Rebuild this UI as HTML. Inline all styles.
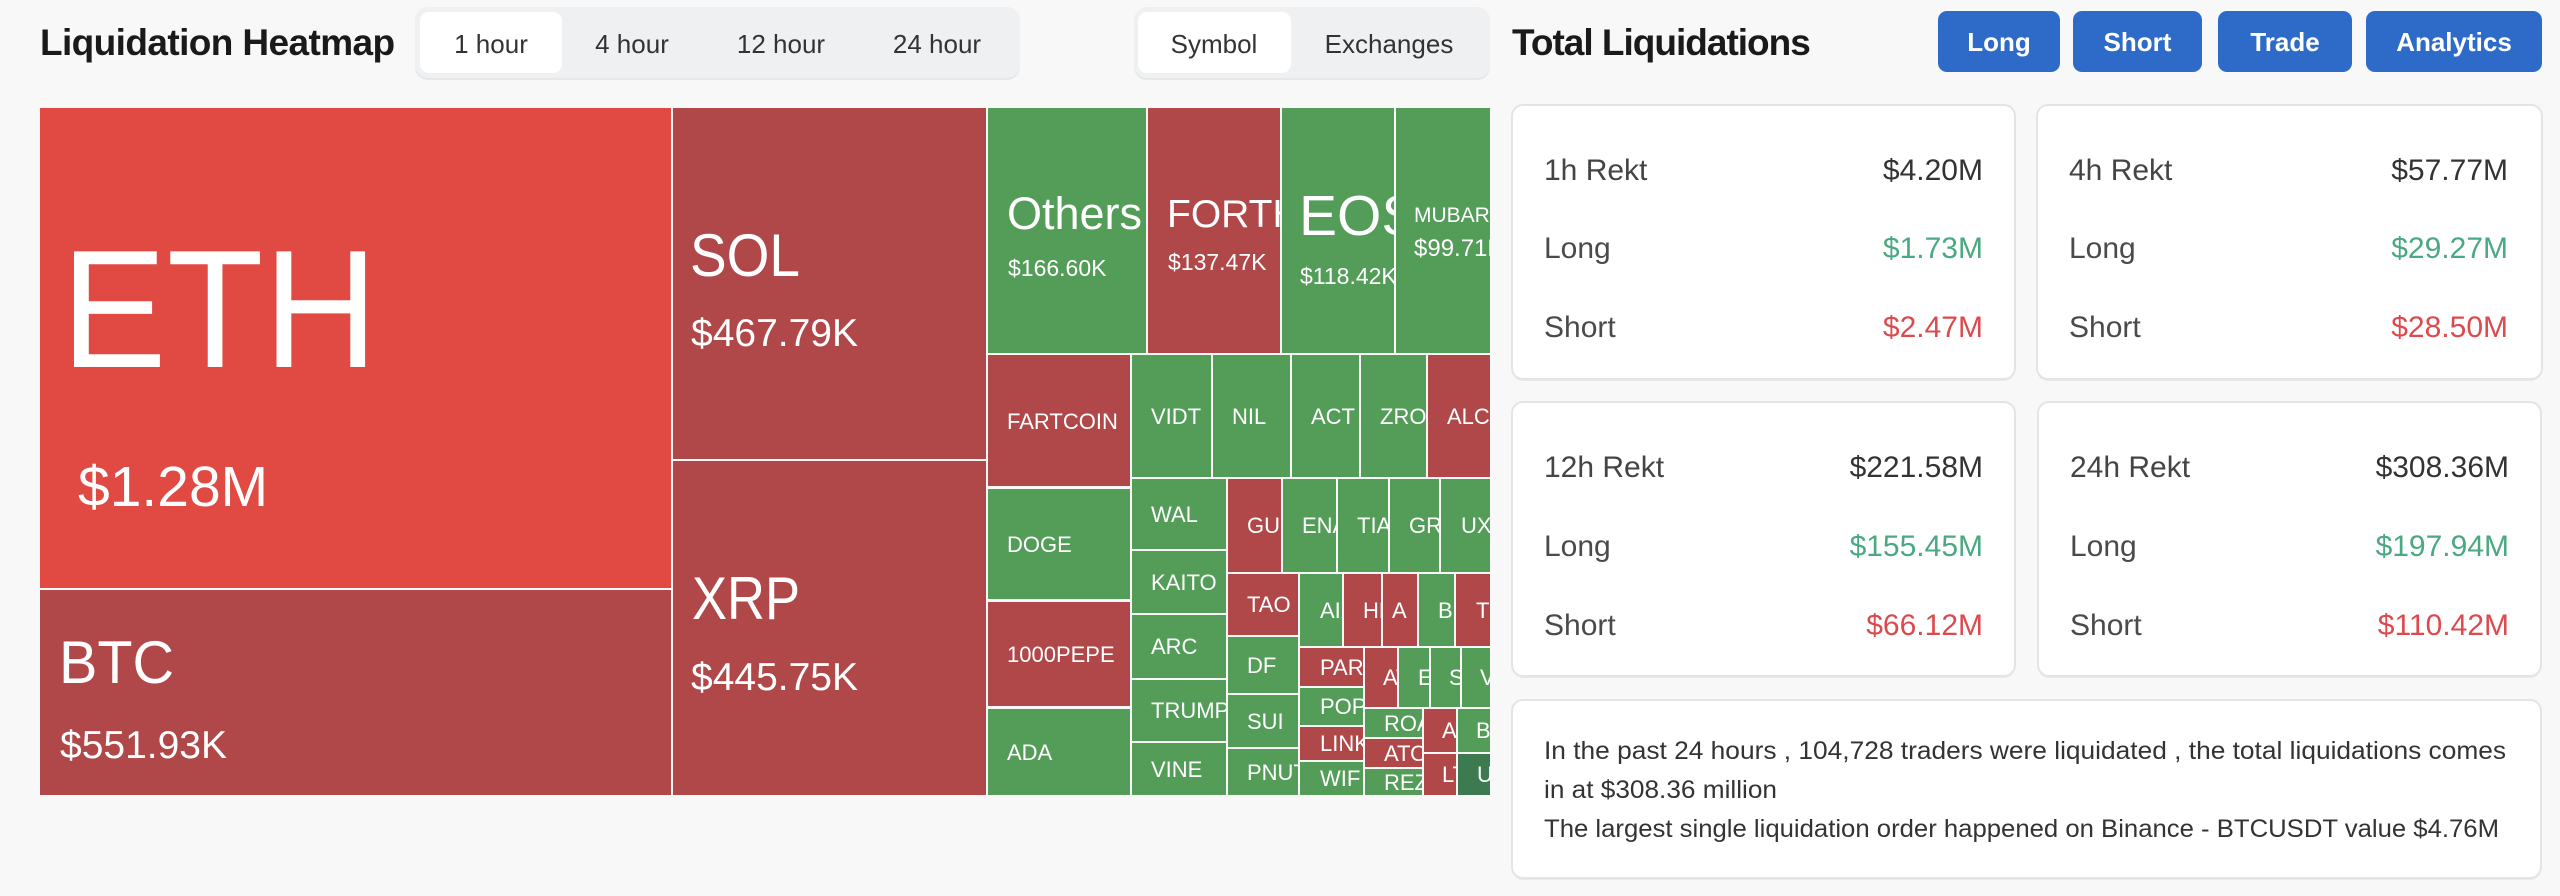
<!DOCTYPE html>
<html>
<head>
<meta charset="utf-8">
<style>
  html,body{margin:0;padding:0;background:#f8f8f8;}
  svg{display:block;}
  text{font-family:"Liberation Sans", sans-serif;}
</style>
</head>
<body>
<svg xmlns="http://www.w3.org/2000/svg" width="2560" height="896" viewBox="0 0 2560 896">
  <rect x="0" y="0" width="2560" height="896" fill="#f8f8f8"/>

  <!-- Left header -->
  <text x="40" y="55" font-size="37" font-weight="bold" fill="#1a1a1a" letter-spacing="-0.6">Liquidation Heatmap</text>

  <!-- Tab group 1 -->
  <rect x="415" y="9" width="605" height="71" rx="13" fill="#e6e7e9"/>
  <rect x="415" y="7" width="605" height="71" rx="13" fill="#eff0f2"/>
  <rect x="420" y="12" width="142" height="61" rx="9" fill="#ffffff"/>
  <g font-size="26" fill="#333" text-anchor="middle">
    <text x="491" y="53">1 hour</text>
    <text x="632" y="53">4 hour</text>
    <text x="781" y="53">12 hour</text>
    <text x="937" y="53">24 hour</text>
  </g>

  <!-- Tab group 2 -->
  <rect x="1134" y="9" width="356" height="71" rx="13" fill="#e6e7e9"/>
  <rect x="1134" y="7" width="356" height="71" rx="13" fill="#eff0f2"/>
  <rect x="1138" y="12" width="153" height="61" rx="9" fill="#ffffff"/>
  <g font-size="26" fill="#333" text-anchor="middle">
    <text x="1214" y="53">Symbol</text>
    <text x="1389" y="53">Exchanges</text>
  </g>

  <!-- Treemap -->
  <g font-size="22" fill="#ffffff">
    <svg x="40" y="108" width="631" height="480" viewBox="40 108 631 480">
      <rect x="40" y="108" width="631" height="480" fill="#e04a42"/>
      <text x="61" y="367" font-size="168" fill="#fff" textLength="317" lengthAdjust="spacingAndGlyphs">ETH</text>
      <text x="78" y="506" font-size="57" fill="#fff">$1.28M</text>
    </svg>
    <svg x="40" y="590" width="631" height="205" viewBox="40 590 631 205">
      <rect x="40" y="590" width="631" height="205" fill="#b0484a"/>
      <text x="59" y="683" font-size="60" fill="#fff" textLength="115" lengthAdjust="spacingAndGlyphs">BTC</text>
      <text x="60" y="758" font-size="39" fill="#fff">$551.93K</text>
    </svg>
    <svg x="673" y="108" width="313" height="351" viewBox="673 108 313 351">
      <rect x="673" y="108" width="313" height="351" fill="#b0484a"/>
      <text x="690" y="276" font-size="60" fill="#fff" textLength="110" lengthAdjust="spacingAndGlyphs">SOL</text>
      <text x="691" y="346" font-size="39" fill="#fff">$467.79K</text>
    </svg>
    <svg x="673" y="461" width="313" height="334" viewBox="673 461 313 334">
      <rect x="673" y="461" width="313" height="334" fill="#b0484a"/>
      <text x="692" y="619" font-size="60" fill="#fff" textLength="108" lengthAdjust="spacingAndGlyphs">XRP</text>
      <text x="691" y="690" font-size="39" fill="#fff">$445.75K</text>
    </svg>
    <svg x="988" y="108" width="158" height="245" viewBox="988 108 158 245">
      <rect x="988" y="108" width="158" height="245" fill="#539d59"/>
      <text x="1007" y="229" font-size="45" fill="#fff">Others</text>
      <text x="1008" y="276" font-size="23" fill="#fff">$166.60K</text>
    </svg>
    <svg x="1148" y="108" width="132" height="245" viewBox="1148 108 132 245">
      <rect x="1148" y="108" width="132" height="245" fill="#b0484a"/>
      <text x="1167" y="227" font-size="39" fill="#fff">FORTH</text>
      <text x="1168" y="270" font-size="23" fill="#fff">$137.47K</text>
    </svg>
    <svg x="1282" y="108" width="112" height="245" viewBox="1282 108 112 245">
      <rect x="1282" y="108" width="112" height="245" fill="#539d59"/>
      <text x="1299" y="235" font-size="57" fill="#fff">EOS</text>
      <text x="1300" y="284" font-size="23" fill="#fff">$118.42K</text>
    </svg>
    <svg x="1396" y="108" width="94" height="245" viewBox="1396 108 94 245">
      <rect x="1396" y="108" width="94" height="245" fill="#539d59"/>
      <text x="1414" y="222" font-size="21" fill="#fff">MUBARAK</text>
      <text x="1414" y="256" font-size="24" fill="#fff">$99.71K</text>
    </svg>

    <svg x="988" y="355" width="142" height="131" viewBox="988 355 142 131">
      <rect x="988" y="355" width="142" height="131" fill="#b0484a"/>
      <text x="1007" y="429">FARTCOIN</text>
    </svg>
    <svg x="988" y="489" width="142" height="110" viewBox="988 489 142 110">
      <rect x="988" y="489" width="142" height="110" fill="#539d59"/>
      <text x="1007" y="552">DOGE</text>
    </svg>
    <svg x="988" y="602" width="142" height="104" viewBox="988 602 142 104">
      <rect x="988" y="602" width="142" height="104" fill="#b0484a"/>
      <text x="1007" y="662">1000PEPE</text>
    </svg>
    <svg x="988" y="709" width="142" height="86" viewBox="988 709 142 86">
      <rect x="988" y="709" width="142" height="86" fill="#539d59"/>
      <text x="1007" y="760">ADA</text>
    </svg>

    <svg x="1132" y="355" width="79" height="122" viewBox="1132 355 79 122">
      <rect x="1132" y="355" width="79" height="122" fill="#539d59"/>
      <text x="1151" y="424">VIDT</text>
    </svg>
    <svg x="1213" y="355" width="77" height="122" viewBox="1213 355 77 122">
      <rect x="1213" y="355" width="77" height="122" fill="#539d59"/>
      <text x="1232" y="424">NIL</text>
    </svg>
    <svg x="1292" y="355" width="67" height="122" viewBox="1292 355 67 122">
      <rect x="1292" y="355" width="67" height="122" fill="#539d59"/>
      <text x="1311" y="424">ACT</text>
    </svg>
    <svg x="1361" y="355" width="65" height="122" viewBox="1361 355 65 122">
      <rect x="1361" y="355" width="65" height="122" fill="#539d59"/>
      <text x="1380" y="424">ZRO</text>
    </svg>
    <svg x="1428" y="355" width="62" height="122" viewBox="1428 355 62 122">
      <rect x="1428" y="355" width="62" height="122" fill="#b0484a"/>
      <text x="1447" y="424">ALCH</text>
    </svg>

    <svg x="1132" y="479" width="94" height="70" viewBox="1132 479 94 70">
      <rect x="1132" y="479" width="94" height="70" fill="#539d59"/>
      <text x="1151" y="522">WAL</text>
    </svg>
    <svg x="1132" y="551" width="94" height="62" viewBox="1132 551 94 62">
      <rect x="1132" y="551" width="94" height="62" fill="#539d59"/>
      <text x="1151" y="590">KAITO</text>
    </svg>
    <svg x="1132" y="615" width="94" height="63" viewBox="1132 615 94 63">
      <rect x="1132" y="615" width="94" height="63" fill="#539d59"/>
      <text x="1151" y="654">ARC</text>
    </svg>
    <svg x="1132" y="680" width="94" height="61" viewBox="1132 680 94 61">
      <rect x="1132" y="680" width="94" height="61" fill="#539d59"/>
      <text x="1151" y="718">TRUMP</text>
    </svg>
    <svg x="1132" y="743" width="94" height="52" viewBox="1132 743 94 52">
      <rect x="1132" y="743" width="94" height="52" fill="#539d59"/>
      <text x="1151" y="777">VINE</text>
    </svg>

    <svg x="1228" y="479" width="53" height="93" viewBox="1228 479 53 93">
      <rect x="1228" y="479" width="53" height="93" fill="#b0484a"/>
      <text x="1247" y="533">GUN</text>
    </svg>
    <svg x="1283" y="479" width="53" height="93" viewBox="1283 479 53 93">
      <rect x="1283" y="479" width="53" height="93" fill="#539d59"/>
      <text x="1302" y="533">ENA</text>
    </svg>
    <svg x="1338" y="479" width="50" height="93" viewBox="1338 479 50 93">
      <rect x="1338" y="479" width="50" height="93" fill="#539d59"/>
      <text x="1357" y="533">TIA</text>
    </svg>
    <svg x="1390" y="479" width="49" height="93" viewBox="1390 479 49 93">
      <rect x="1390" y="479" width="49" height="93" fill="#539d59"/>
      <text x="1409" y="533">GRASS</text>
    </svg>
    <svg x="1441" y="479" width="49" height="93" viewBox="1441 479 49 93">
      <rect x="1441" y="479" width="49" height="93" fill="#539d59"/>
      <text x="1461" y="533">UXLINK</text>
    </svg>

    <svg x="1228" y="574" width="70" height="61" viewBox="1228 574 70 61">
      <rect x="1228" y="574" width="70" height="61" fill="#b0484a"/>
      <text x="1247" y="612">TAO</text>
    </svg>
    <svg x="1228" y="637" width="70" height="56" viewBox="1228 637 70 56">
      <rect x="1228" y="637" width="70" height="56" fill="#539d59"/>
      <text x="1247" y="673">DF</text>
    </svg>
    <svg x="1228" y="695" width="70" height="52" viewBox="1228 695 70 52">
      <rect x="1228" y="695" width="70" height="52" fill="#539d59"/>
      <text x="1247" y="729">SUI</text>
    </svg>
    <svg x="1228" y="749" width="70" height="46" viewBox="1228 749 70 46">
      <rect x="1228" y="749" width="70" height="46" fill="#539d59"/>
      <text x="1247" y="780">PNUT</text>
    </svg>

    <svg x="1300" y="574" width="42" height="72" viewBox="1300 574 42 72">
      <rect x="1300" y="574" width="42" height="72" fill="#539d59"/>
      <text x="1320" y="618">AIXBT</text>
    </svg>
    <svg x="1344" y="574" width="37" height="72" viewBox="1344 574 37 72">
      <rect x="1344" y="574" width="37" height="72" fill="#b0484a"/>
      <text x="1363" y="618">HMSTR</text>
    </svg>
    <svg x="1383" y="574" width="34" height="72" viewBox="1383 574 34 72">
      <rect x="1383" y="574" width="34" height="72" fill="#b0484a"/>
      <text x="1392" y="618">A</text>
    </svg>
    <svg x="1419" y="574" width="35" height="72" viewBox="1419 574 35 72">
      <rect x="1419" y="574" width="35" height="72" fill="#539d59"/>
      <text x="1438" y="618">BNB</text>
    </svg>
    <svg x="1456" y="574" width="34" height="72" viewBox="1456 574 34 72">
      <rect x="1456" y="574" width="34" height="72" fill="#b0484a"/>
      <text x="1476" y="618">TRX</text>
    </svg>

    <svg x="1300" y="648" width="63" height="38" viewBox="1300 648 63 38">
      <rect x="1300" y="648" width="63" height="38" fill="#b0484a"/>
      <text x="1320" y="675">PARTI</text>
    </svg>
    <svg x="1300" y="688" width="63" height="37" viewBox="1300 688 63 37">
      <rect x="1300" y="688" width="63" height="37" fill="#539d59"/>
      <text x="1320" y="714">POPCAT</text>
    </svg>
    <svg x="1300" y="727" width="63" height="33" viewBox="1300 727 63 33">
      <rect x="1300" y="727" width="63" height="33" fill="#b0484a"/>
      <text x="1320" y="751">LINK</text>
    </svg>
    <svg x="1300" y="762" width="63" height="33" viewBox="1300 762 63 33">
      <rect x="1300" y="762" width="63" height="33" fill="#539d59"/>
      <text x="1320" y="786">WIF</text>
    </svg>

    <svg x="1365" y="648" width="32" height="59" viewBox="1365 648 32 59">
      <rect x="1365" y="648" width="32" height="59" fill="#b0484a"/>
      <text x="1383" y="685">AVAX</text>
    </svg>
    <svg x="1399" y="648" width="30" height="59" viewBox="1399 648 30 59">
      <rect x="1399" y="648" width="30" height="59" fill="#539d59"/>
      <text x="1418" y="685">ETC</text>
    </svg>
    <svg x="1431" y="648" width="29" height="59" viewBox="1431 648 29 59">
      <rect x="1431" y="648" width="29" height="59" fill="#539d59"/>
      <text x="1449" y="685">SEI</text>
    </svg>
    <svg x="1462" y="648" width="28" height="59" viewBox="1462 648 28 59">
      <rect x="1462" y="648" width="28" height="59" fill="#539d59"/>
      <text x="1480" y="685">VET</text>
    </svg>

    <svg x="1365" y="709" width="57" height="28" viewBox="1365 709 57 28">
      <rect x="1365" y="709" width="57" height="28" fill="#539d59"/>
      <text x="1384" y="731">ROAM</text>
    </svg>
    <svg x="1365" y="739" width="57" height="28" viewBox="1365 739 57 28">
      <rect x="1365" y="739" width="57" height="28" fill="#b0484a"/>
      <text x="1384" y="761">ATOM</text>
    </svg>
    <svg x="1365" y="769" width="57" height="26" viewBox="1365 769 57 26">
      <rect x="1365" y="769" width="57" height="26" fill="#539d59"/>
      <text x="1384" y="790">REZ</text>
    </svg>

    <svg x="1424" y="709" width="32" height="43" viewBox="1424 709 32 43">
      <rect x="1424" y="709" width="32" height="43" fill="#b0484a"/>
      <text x="1442" y="738">ANIME</text>
    </svg>
    <svg x="1424" y="754" width="32" height="41" viewBox="1424 754 32 41">
      <rect x="1424" y="754" width="32" height="41" fill="#b0484a"/>
      <text x="1442" y="782">LTC</text>
    </svg>
    <svg x="1458" y="709" width="32" height="43" viewBox="1458 709 32 43">
      <rect x="1458" y="709" width="32" height="43" fill="#539d59"/>
      <text x="1476" y="738">BERA</text>
    </svg>
    <svg x="1458" y="754" width="32" height="41" viewBox="1458 754 32 41">
      <rect x="1458" y="754" width="32" height="41" fill="#3e7a50"/>
      <text x="1477" y="782">UNI</text>
    </svg>
  </g>

  <!-- Right panel header -->
  <text x="1512" y="55" font-size="37" font-weight="bold" fill="#1a1a1a" letter-spacing="-1">Total Liquidations</text>

  <g font-size="26" font-weight="bold" fill="#ffffff" text-anchor="middle">
    <rect x="1938" y="11" width="122" height="61" rx="9" fill="#2e6bc8"/>
    <text x="1999" y="51">Long</text>
    <rect x="2073" y="11" width="129" height="61" rx="9" fill="#2e6bc8"/>
    <text x="2137.5" y="51">Short</text>
    <rect x="2218" y="11" width="134" height="61" rx="9" fill="#2e6bc8"/>
    <text x="2285" y="51">Trade</text>
    <rect x="2366" y="11" width="176" height="61" rx="9" fill="#2e6bc8"/>
    <text x="2454" y="51">Analytics</text>
  </g>

  <!-- Cards -->
  <g>
    <rect x="1512" y="107" width="503" height="274" rx="11" fill="#e9e9e9"/>
    <rect x="1512" y="105" width="503" height="274" rx="11" fill="#ffffff" stroke="#e4e4e4" stroke-width="2"/>
    <rect x="2037" y="107" width="505" height="274" rx="11" fill="#e9e9e9"/>
    <rect x="2037" y="105" width="505" height="274" rx="11" fill="#ffffff" stroke="#e4e4e4" stroke-width="2"/>
    <rect x="1512" y="404" width="503" height="274" rx="11" fill="#e9e9e9"/>
    <rect x="1512" y="402" width="503" height="274" rx="11" fill="#ffffff" stroke="#e4e4e4" stroke-width="2"/>
    <rect x="2038" y="404" width="503" height="274" rx="11" fill="#e9e9e9"/>
    <rect x="2038" y="402" width="503" height="274" rx="11" fill="#ffffff" stroke="#e4e4e4" stroke-width="2"/>
    <rect x="1512" y="702" width="1029" height="178" rx="11" fill="#e9e9e9"/>
    <rect x="1512" y="700" width="1029" height="178" rx="11" fill="#ffffff" stroke="#e4e4e4" stroke-width="2"/>
  </g>

  <g font-size="30">
    <text x="1544" y="180" fill="#444">1h Rekt</text>
    <text x="1983" y="180" fill="#333" text-anchor="end">$4.20M</text>
    <text x="1544" y="258" fill="#4a4a4a">Long</text>
    <text x="1983" y="258" fill="#4aa981" text-anchor="end">$1.73M</text>
    <text x="1544" y="337" fill="#4a4a4a">Short</text>
    <text x="1983" y="337" fill="#dc4a4e" text-anchor="end">$2.47M</text>

    <text x="2069" y="180" fill="#444">4h Rekt</text>
    <text x="2508" y="180" fill="#333" text-anchor="end">$57.77M</text>
    <text x="2069" y="258" fill="#4a4a4a">Long</text>
    <text x="2508" y="258" fill="#4aa981" text-anchor="end">$29.27M</text>
    <text x="2069" y="337" fill="#4a4a4a">Short</text>
    <text x="2508" y="337" fill="#dc4a4e" text-anchor="end">$28.50M</text>

    <text x="1544" y="477" fill="#444">12h Rekt</text>
    <text x="1983" y="477" fill="#333" text-anchor="end">$221.58M</text>
    <text x="1544" y="556" fill="#4a4a4a">Long</text>
    <text x="1983" y="556" fill="#4aa981" text-anchor="end">$155.45M</text>
    <text x="1544" y="635" fill="#4a4a4a">Short</text>
    <text x="1983" y="635" fill="#dc4a4e" text-anchor="end">$66.12M</text>

    <text x="2070" y="477" fill="#444">24h Rekt</text>
    <text x="2509" y="477" fill="#333" text-anchor="end">$308.36M</text>
    <text x="2070" y="556" fill="#4a4a4a">Long</text>
    <text x="2509" y="556" fill="#4aa981" text-anchor="end">$197.94M</text>
    <text x="2070" y="635" fill="#4a4a4a">Short</text>
    <text x="2509" y="635" fill="#dc4a4e" text-anchor="end">$110.42M</text>
  </g>

  <g font-size="25" fill="#333">
    <text x="1544" y="759" textLength="962" lengthAdjust="spacingAndGlyphs">In the past 24 hours , 104,728 traders were liquidated , the total liquidations comes</text>
    <text x="1544" y="798" textLength="233" lengthAdjust="spacingAndGlyphs">in at $308.36 million</text>
    <text x="1544" y="837" textLength="955" lengthAdjust="spacingAndGlyphs">The largest single liquidation order happened on Binance - BTCUSDT value $4.76M</text>
  </g>
</svg>
</body>
</html>
